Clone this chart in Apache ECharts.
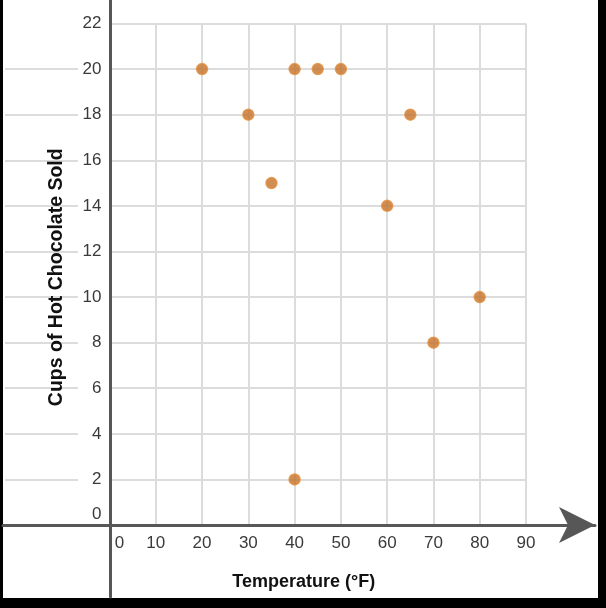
<!DOCTYPE html>
<html>
<head>
<meta charset="utf-8">
<script src="https://cdn.jsdelivr.net/npm/echarts@6/dist/echarts.min.js"></script>
<style>
html,body{margin:0;padding:0;background:#000;}
#bg{position:absolute;left:3px;top:0;width:595px;height:598px;background:#fff;}
#chart{position:absolute;left:0;top:0;width:606px;height:608px;}
</style>
</head>
<body>
<div id="bg"></div>
<div id="chart"></div>
<script>
// Data
const temperatures = [20, 30, 35, 40, 45, 50, 60, 65, 70, 80, 40];
const cupsSold     = [20, 18, 15, 20, 20, 20, 14, 18, 8, 10, 2];
const xTickMin = 0, xTickMax = 90, xTickStep = 10;
const yTickMin = 0, yTickMax = 22, yTickStep = 2;
const xTitle = 'Temperature (°F)';
const yTitle = 'Cups of Hot Chocolate Sold';

const points = temperatures.map((t, i) => [t, cupsSold[i]]);
const FONT = '"Liberation Sans", Arial, sans-serif';
const gridColor = '#dcdcdc';
const axisColor = '#575757';
const labelColor = '#3a3a3a';

const chart = echarts.init(document.getElementById('chart'), null, {renderer: 'canvas'});
chart.setOption({
  backgroundColor: 'transparent',
  animation: false,
  grid: [
    {left: 109.5, top: 23.5, width: 416.5, height: 501.5},   // main
    {left: 5, top: 23.5, width: 73, height: 501.5},          // left grid-line extension
    {left: 3, right: 11, top: 0, bottom: 83},                // x axis line with arrow
    {left: 110, top: 0, bottom: 11, width: 1}                // y axis line
  ],
  xAxis: [
    {
      gridIndex: 0, type: 'value', min: xTickMin, max: xTickMax, interval: xTickStep,
      axisLine: {show: false}, axisTick: {show: false},
      splitLine: {show: true, lineStyle: {color: gridColor, width: 2}},
      axisLabel: {
        margin: 10, color: labelColor, fontSize: 17, fontFamily: FONT,
        formatter: v => v === 0 ? '{z|0}' : String(v),
        rich: {z: {padding: [0, 0, 0, 20], fontSize: 17, color: labelColor, fontFamily: FONT}}
      },
      name: xTitle, nameLocation: 'middle', nameGap: 48,
      nameTextStyle: {fontSize: 18, fontWeight: 'bold', color: '#111', fontFamily: FONT, padding: [0, 28, 0, 0]}
    },
    {gridIndex: 1, type: 'value', show: false, min: 0, max: 1},
    {
      gridIndex: 2, type: 'value', min: 0, max: 1,
      axisLine: {show: true, symbol: ['none', 'arrow'], symbolSize: [27, 36],
        lineStyle: {color: axisColor, width: 3}},
      axisTick: {show: false}, axisLabel: {show: false}, splitLine: {show: false}
    },
    {gridIndex: 3, type: 'value', show: false, min: 0, max: 1}
  ],
  yAxis: [
    {
      gridIndex: 0, type: 'value', min: yTickMin, max: yTickMax, interval: yTickStep,
      axisLine: {show: false}, axisTick: {show: false},
      splitLine: {show: true, lineStyle: {color: gridColor, width: 2}},
      axisLabel: {
        margin: 8, color: labelColor, fontSize: 17, fontFamily: FONT,
        formatter: v => v === 0 ? '{z|0}' : String(v),
        rich: {z: {padding: [0, 0, 22, 0], fontSize: 17, color: labelColor, fontFamily: FONT}}
      },
      name: yTitle, nameLocation: 'middle', nameGap: 43, nameRotate: 90,
      nameTextStyle: {fontSize: 19.5, fontWeight: 'bold', color: '#111', fontFamily: FONT, padding: [0, 6, 0, 0]}
    },
    {
      gridIndex: 1, type: 'value', min: yTickMin, max: yTickMax, interval: yTickStep,
      axisLine: {show: false}, axisTick: {show: false}, axisLabel: {show: false},
      splitLine: {show: true, showMaxLine: false, showMinLine: false, lineStyle: {color: gridColor, width: 2}}
    },
    {gridIndex: 2, type: 'value', show: false, min: 0, max: 1},
    {
      gridIndex: 3, type: 'value', min: 0, max: 1,
      axisLine: {show: true, lineStyle: {color: axisColor, width: 3}},
      axisTick: {show: false}, axisLabel: {show: false}, splitLine: {show: false}
    }
  ],
  series: [{
    type: 'scatter', xAxisIndex: 0, yAxisIndex: 0,
    data: points, symbolSize: 11,
    itemStyle: {color: '#C47229', borderColor: '#E28E3C', borderWidth: 1.5}
  }]
});
</script>
</body>
</html>
